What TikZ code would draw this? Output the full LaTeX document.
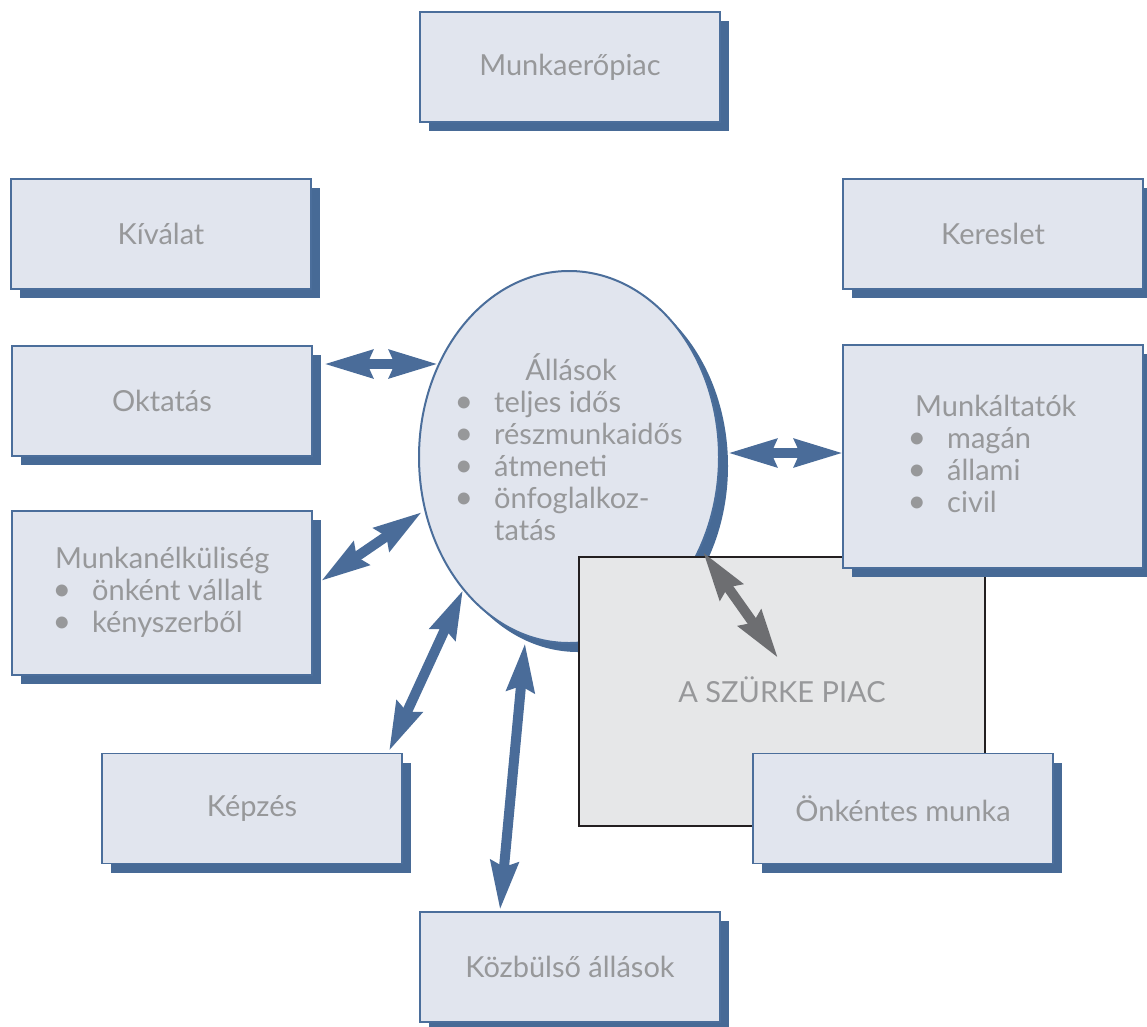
\documentclass[tikz,border=0pt]{standalone}
\usepackage{fontspec}
\setmainfont{Lato}
\usetikzlibrary{shapes.geometric,arrows.meta,shadows}
\definecolor{boxfill}{HTML}{E1E5EE}
\definecolor{bblue}{HTML}{4B6E9B}
\definecolor{sblue}{HTML}{476A96}
\definecolor{tgray}{HTML}{97989A}
\definecolor{greyfill}{HTML}{E6E7E8}
\definecolor{greyborder}{HTML}{231F20}
\definecolor{ablue}{HTML}{4A6C99}
\definecolor{agrey}{HTML}{6D6E71}
\tikzset{
  lbl/.style={text=tgray,font=\fontsize{29}{32}\selectfont},
  bluebox/.style={lbl,draw=bblue,fill=boxfill,line width=1.6pt,rectangle,
    minimum width=300pt,minimum height=110pt,inner sep=0pt,
    drop shadow={fill=sblue,opacity=1,shadow xshift=9pt,shadow yshift=-9pt}},
  txt/.style={lbl,anchor=base west,inner sep=0pt},
  bul/.style={lbl,anchor=base,inner sep=0pt,font=\fontsize{32}{32}\selectfont},
  dbl/.style={line width=10pt,draw=ablue,{Stealth[length=48pt,width=27pt,inset=5pt]}-{Stealth[length=48pt,width=27pt,inset=5pt]}},
  dblgrey/.style={dbl,draw=agrey}
}
\begin{document}
\begin{tikzpicture}[x=1pt,y=-1pt]
\useasboundingbox (0,0) rectangle (1147,1026);
% central ellipse with shadow
\fill[sblue] (578,466) ellipse [x radius=150, y radius=186];
\node[ellipse,draw=bblue,fill=boxfill,line width=2pt,minimum width=300pt,minimum height=372pt,inner sep=0pt] (ell) at (569,457) {};
\node[lbl,anchor=base,inner sep=0pt] (allasok) at (571,380) {Állások};
\node[bul] (eb1) at (464,412) {•};
\node[txt] (et1) at (494,412) {teljes idős};
\node[bul] (eb2) at (464,444) {•};
\node[txt] (et2) at (494,444) {részmunkaidős};
\node[bul] (eb3) at (464,476) {•};
\node[txt] (et3) at (494,476) {átmeneti};
\node[bul] (eb4) at (464,508) {•};
\node[txt] (et4) at (494,508) {önfoglalkoz-};
\node[txt] (et5) at (494,540) {tatás};
% grey market box
\node[draw=greyborder,fill=greyfill,line width=2.5pt,minimum width=406pt,minimum height=269pt,inner sep=0pt,lbl] (grey) at (782,691.5) {};
\node[lbl,inner sep=0pt,anchor=base] (greytxt) at (782,702) {A SZÜRKE PIAC};
% boxes
\node[bluebox] (munkaero) at (570,67) {Munkaerőpiac};
\node[bluebox] (kivalat) at (161,234) {Kíválat};
\node[bluebox] (kereslet) at (993,234) {Kereslet};
\node[bluebox] (oktatas) at (162,401) {Oktatás};
\node[bluebox,minimum height=223pt] (munkaltatok) at (993,456.5) {};
\node[txt] (mt0) at (915,416) {Munkáltatók};
\node[bul] (mb1) at (917,448) {•};
\node[txt] (mt1) at (947,448) {magán};
\node[bul] (mb2) at (917,480) {•};
\node[txt] (mt2) at (947,480) {állami};
\node[bul] (mb3) at (917,512) {•};
\node[txt] (mt3) at (947,512) {civil};
\node[bluebox,minimum height=164pt] (munkanelk) at (162,593) {};
\node[txt] (nt0) at (55,568) {Munkanélküliség};
\node[bul] (nb1) at (62,600) {•};
\node[txt] (nt1) at (92,600) {önként vállalt};
\node[bul] (nb2) at (62,632) {•};
\node[txt] (nt2) at (92,632) {kényszerből};
\node[bluebox] (kepzes) at (252,808.5) {Képzés};
\node[bluebox] (onkentes) at (903,808.5) {Önkéntes munka};
\node[bluebox] (kozbulso) at (570,967) {Közbülső állások};
% arrow end points
\coordinate (a1) at (324,364); \coordinate (b1) at (438,364);
\coordinate (a2) at (728,453); \coordinate (b2) at (843,453);
\coordinate (a3) at (321,581); \coordinate (b3) at (422,512);
\coordinate (a4) at (389,751); \coordinate (b4) at (463,590);
\coordinate (a5) at (500,910); \coordinate (b5) at (525,643);
\coordinate (a6) at (703,552); \coordinate (b6) at (778,658);
\draw[dbl] (a1) -- (b1);
\draw[dbl] (a2) -- (b2);
\draw[dbl] (a3) -- (b3);
\draw[dbl] (a4) -- (b4);
\draw[dbl] (a5) -- (b5);
\draw[dblgrey] (a6) -- (b6);
\end{tikzpicture}
\end{document}
